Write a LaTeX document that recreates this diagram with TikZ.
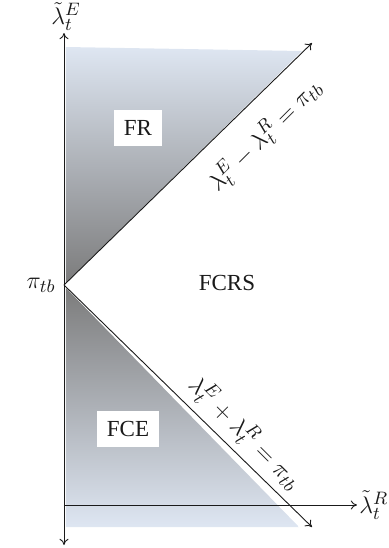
\documentclass[tikz,border=0pt]{standalone}
\usepackage{fontspec}
\setmainfont{Liberation Serif}
\usepackage{tikz}
\usetikzlibrary{positioning, arrows.meta, calc}
\definecolor{paleblue}{HTML}{DEE6F2}
\definecolor{midgrey}{HTML}{D9D9D9}
\definecolor{darkgrey}{HTML}{7C7C7C}
\definecolor{ink}{HTML}{1A1A1A}
\tikzset{
  axis/.style={-{To[length=1.1mm, width=1.6mm]}, line width=0.45pt, draw=ink},
  bound/.style={-{To[length=1.1mm, width=1.6mm]}, line width=0.45pt, draw=ink},
  region/.style={fill=white, inner sep=5pt, font=\fontsize{11.5}{13}\selectfont, text=ink},
  axislabel/.style={font=\fontsize{13}{15}\selectfont, text=ink, inner sep=1pt},
  linelabel/.style={font=\fontsize{13}{15}\selectfont, text=ink, inner sep=1pt},
}
\begin{document}
\begin{tikzpicture}[x=0.5pt, y=-0.5pt]
  \useasboundingbox (0,0) rectangle (388,548);

  % Key points of the diagram
  \coordinate (apex) at (64,285);
  \coordinate (ytop) at (64,33);
  \coordinate (ybot) at (64,545);
  \coordinate (orig) at (64,505);
  \coordinate (xend) at (357,505);
  \coordinate (upend) at (312,43);
  \coordinate (lowend) at (312,527);

  % Shaded regions, blue far from the apex, grey close to it
  \shade[top color=paleblue, middle color=midgrey, bottom color=darkgrey]
    (66,47) -- (302,51) -- (66,283) -- cycle;
  \shade[top color=darkgrey, middle color=midgrey, bottom color=paleblue]
    (66,288) -- (299,527) -- (66,527) -- cycle;

  % Axes
  \draw[axis, {To[length=1.1mm, width=1.6mm]}-{To[length=1.1mm, width=1.6mm]}] (ybot) -- (ytop);
  \draw[axis] (orig) -- (xend);

  % Boundary lines from the apex
  \draw[bound] (apex) -- (upend);
  \draw[bound] (apex) -- (lowend);

  % Axis labels
  \node[axislabel, inner sep=0pt, anchor=south] (ylab) at (66,31) {$\tilde{\lambda}_t^E$};
  \node[axislabel, right=0pt of xend] (xlab) {$\tilde{\lambda}_t^R$};
  \node[axislabel, left=3pt of apex] (pilab) {$\pi_{tb}$};

  % Region labels
  \node[region] (fr) at (138,128) {FR};
  \node[region] (fcrs) at (227,283) {FCRS};
  \node[region] (fce) at (128,429) {FCE};

  % Labels along the boundary lines
  \node[linelabel, rotate=45] (uplab) at (265,135)
    {$\lambda_t^E - \lambda_t^R = \pi_{tb}$};
  \node[linelabel, rotate=-45] (lowlab) at (245,433)
    {$\lambda_t^E + \lambda_t^R = \pi_{tb}$};
\end{tikzpicture}
\end{document}
